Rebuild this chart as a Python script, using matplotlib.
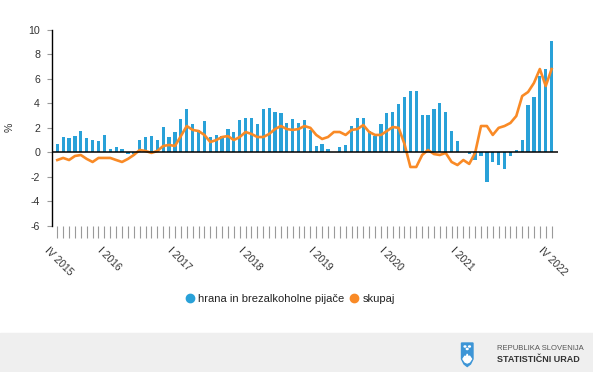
import matplotlib
matplotlib.use('Agg')

import numpy as np
import matplotlib.pyplot as plt
import matplotlib.transforms as mtransforms
from matplotlib.lines import Line2D
from matplotlib.patches import Rectangle, Polygon, Circle

plt.rcParams['font.family'] = ['Liberation Sans', 'DejaVu Sans']

# -----------------------------
# Data (monthly, IV 2015 - IV 2022), year-on-year change in %
# -----------------------------
months = list(range(85))

hrana = [0.7, 1.25, 1.17, 1.33, 1.74, 1.17, 1.0, 0.93, 1.42, 0.27,
         0.44, 0.27, -0.1, -0.1, 1.0, 1.25, 1.33, 1.0, 2.07, 1.25,
         1.66, 2.72, 3.54, 2.32, 1.83, 2.56, 1.25, 1.42, 1.33, 1.9,
         1.66, 2.64, 2.8, 2.8, 2.32, 3.54, 3.62, 3.3, 3.2, 2.4,
         2.72, 2.4, 2.64, 1.83, 0.52, 0.68, 0.27, 0.0, 0.44, 0.6,
         2.15, 2.8, 2.8, 1.74, 1.33, 2.32, 3.2, 3.3, 3.95, 4.52,
         5.01, 5.01, 3.05, 3.05, 3.54, 4.03, 3.3, 1.74, 0.93, 0.0,
         -0.1, -0.63, -0.3, -2.4, -0.8, -1.04, -1.35, -0.3, 0.19, 1.0,
         3.87, 4.52, 6.24, 6.81, 9.1]

skupaj = [-0.63, -0.46, -0.63, -0.3, -0.22, -0.54, -0.79, -0.46, -0.46, -0.46,
          -0.63, -0.79, -0.54, -0.22, 0.19, 0.11, -0.05, 0.11, 0.52, 0.6,
          0.52, 1.33, 2.15, 1.83, 1.74, 1.42, 0.84, 1.0, 1.25, 1.33,
          1.0, 1.25, 1.66, 1.5, 1.25, 1.25, 1.5, 1.9, 2.15, 1.9,
          1.83, 1.9, 2.15, 2.0, 1.42, 1.09, 1.25, 1.66, 1.66, 1.42,
          1.83, 1.9, 2.23, 1.66, 1.42, 1.42, 1.74, 2.07, 2.0, 0.68,
          -1.2, -1.2, -0.22, 0.19, -0.14, -0.22, -0.05, -0.79, -1.04, -0.63,
          -0.95, -0.05, 2.15, 2.15, 1.42, 2.0, 2.15, 2.4, 2.97, 4.6,
          4.93, 5.67, 6.81, 5.42, 6.81]

label_pos = [0, 9, 21, 33, 45, 57, 69, 84]
label_txt = ['IV 2015', 'I 2016', 'I 2017', 'I 2018', 'I 2019', 'I 2020', 'I 2021', 'IV 2022']

yticks = [-6, -4, -2, 0, 2, 4, 6, 8, 10]

blue = '#29a1d8'
orange = '#f98a26'

# -----------------------------
# Figure
# -----------------------------
W, H = 593, 372
fig = plt.figure(figsize=(W / 100, H / 100), dpi=100)
ax = fig.add_axes([52 / W, 1 - 225.7 / H, 505.5 / W, 195.7 / H])

ax.bar(months, hrana, width=0.55, color=blue, zorder=2)
ax.plot(months, skupaj, color=orange, lw=1.9, zorder=3, solid_joinstyle='round')
ax.axhline(0, color='black', lw=1.1, zorder=4)

ax.set_xlim(-0.9, 85)
ax.set_ylim(-6, 10)
ax.set_yticks(yticks)
ax.set_yticklabels([str(v) for v in yticks])

# monthly tick marks, labels placed by hand (rotated)
ax.set_xticks(months)
ax.set_xticklabels([])
trans = ax.get_xaxis_transform() + mtransforms.ScaledTranslation(
    -8 / 100, -20 / 100, fig.dpi_scale_trans)
for p, t in zip(label_pos, label_txt):
    ax.text(p, 0, t, transform=trans, rotation=-45, rotation_mode='anchor',
            ha='left', va='top', fontsize=7.4, color='#333333')

ax.tick_params(axis='x', length=8.5, width=0.8, color='#9a9a9a')
ax.tick_params(axis='y', length=3.6, width=0.8, color='#9a9a9a', pad=5,
               labelsize=7.7, labelcolor='#333333')

for s in ['top', 'right', 'bottom']:
    ax.spines[s].set_visible(False)
ax.spines['left'].set_color('black')
ax.spines['left'].set_linewidth(1.0)

fig.text(9.5 / W, 1 - 127 / H, '%', rotation=90, fontsize=7.7, color='#333333',
         ha='center', va='center')

# legend
handles = [Line2D([], [], marker='o', ls='none', color=blue, markersize=6),
           Line2D([], [], marker='o', ls='none', color=orange, markersize=6)]
fig.legend(handles, ['hrana in brezalkoholne pijače', 'skupaj'], ncol=2,
           loc='center', bbox_to_anchor=(290 / W, 1 - 299 / H), frameon=False,
           fontsize=8.0, handletextpad=0.35, columnspacing=0.5, handlelength=0.8,
           labelcolor='#222222')

# -----------------------------
# Footer band with logo
# -----------------------------
fig.patches.append(Rectangle((0, 0), 1, 1 - 333 / H, transform=fig.transFigure,
                             color='#efefef', zorder=0))

def px(x, y):
    return (x / W, 1 - y / H)

shield = [px(461.5, 343), px(473, 343), px(473, 359), px(470.5, 364),
          px(467.2, 366.5), px(464, 364), px(461.5, 359)]
fig.patches.append(Polygon(shield, closed=True, transform=fig.transFigure,
                           color='#3d95d6', zorder=1))
mount = [px(463, 359), px(465, 356), px(466.2, 357.5), px(467.2, 354),
         px(468.2, 357.5), px(469.5, 356), px(471.5, 359), px(469.5, 362),
         px(467.2, 363), px(465, 362)]
fig.patches.append(Polygon(mount, closed=True, transform=fig.transFigure,
                           color='white', zorder=2))
for sx, sy in [(465, 346.5), (469.5, 346.5), (467.2, 349)]:
    fig.patches.append(Circle(px(sx, sy), 0.9 / W, transform=fig.transFigure,
                              color='white', zorder=2))

fig.text(497 / W, 1 - 348 / H, 'REPUBLIKA SLOVENIJA', fontsize=5.5,
         color='#555555', va='center', ha='left')
fig.text(497 / W, 1 - 359.5 / H, 'STATISTIČNI URAD', fontsize=6.5,
         color='#333333', va='center', ha='left', fontweight='bold')

fig.savefig('out.png', dpi=100)
